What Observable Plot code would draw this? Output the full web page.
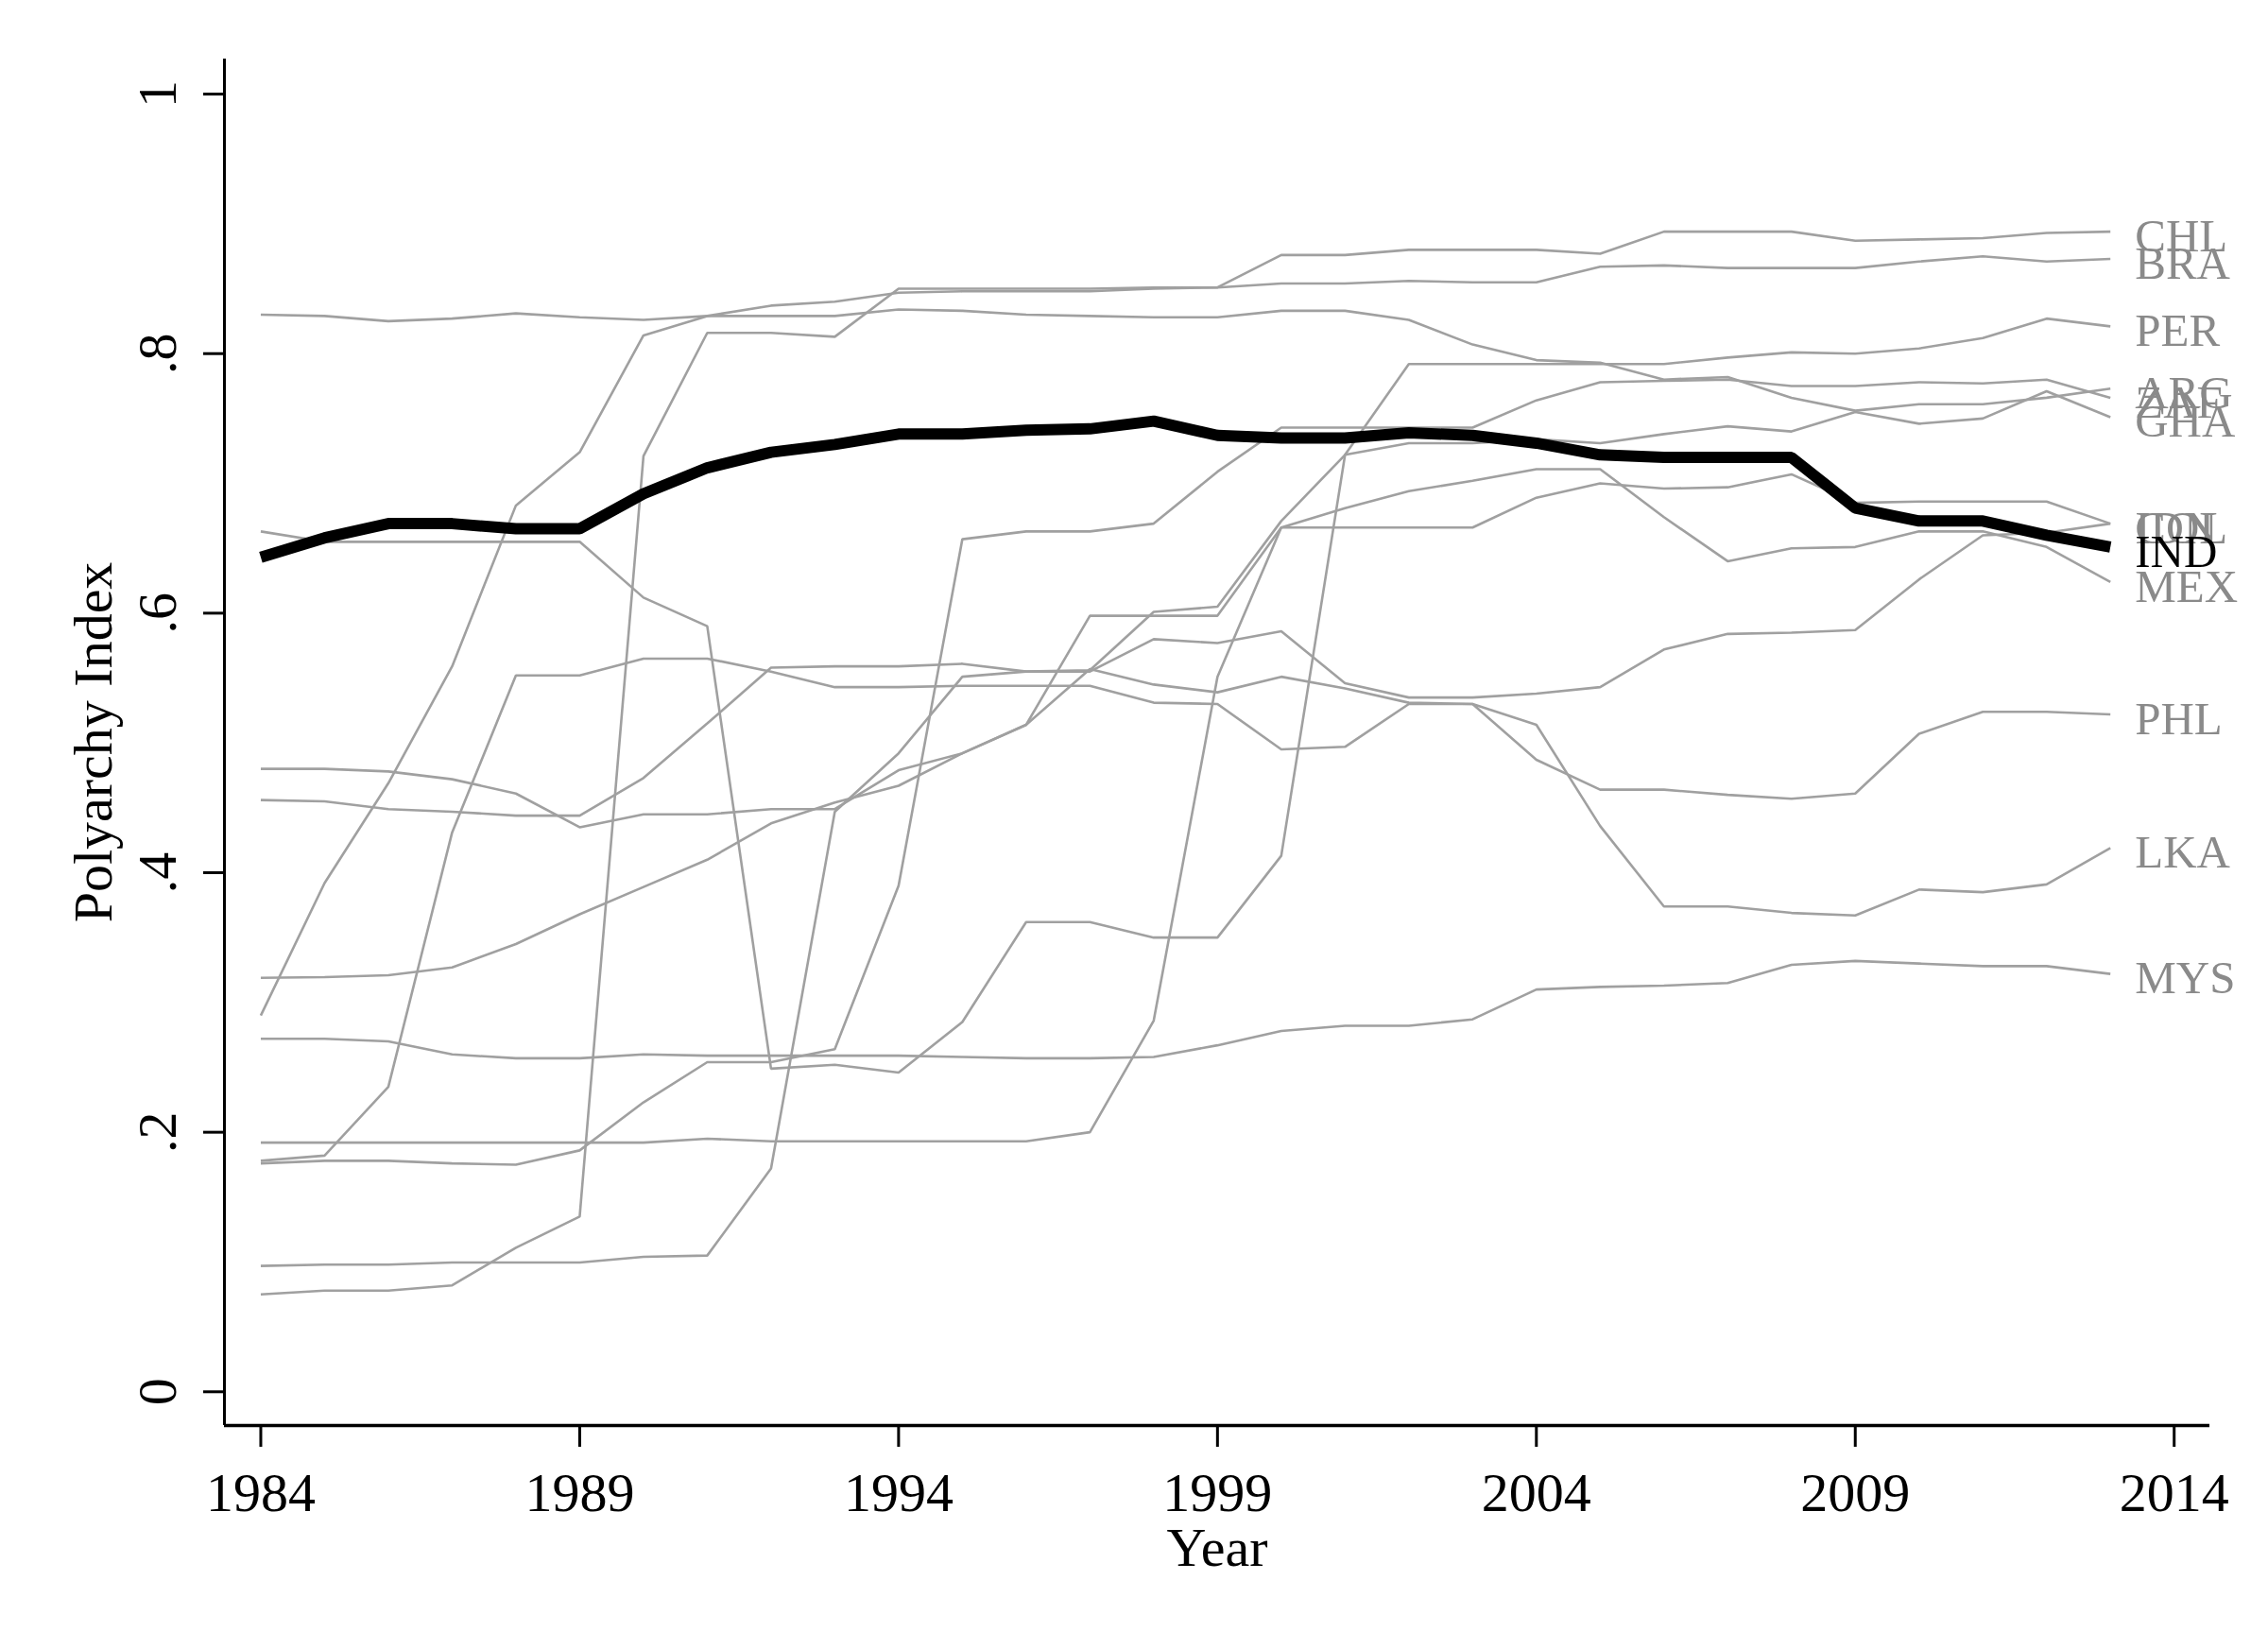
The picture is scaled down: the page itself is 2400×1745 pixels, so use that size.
<!DOCTYPE html>
<html><head><meta charset="utf-8">
<script src="https://cdn.jsdelivr.net/npm/d3@7"></script>
<script src="https://cdn.jsdelivr.net/npm/@observablehq/plot@0.6"></script>
<style>html,body{margin:0;padding:0;background:#fff}</style>
</head><body><div id="chart"></div>
<script>
const years = [1984,1985,1986,1987,1988,1989,1990,1991,1992,1993,1994,1995,1996,1997,1998,1999,2000,2001,2002,2003,2004,2005,2006,2007,2008,2009,2010,2011,2012,2013];

const CHL = [.075,.078,.078,.082,.111,.135,.721,.816,.816,.813,.850,.850,.850,.850,.851,.851,.876,.876,.880,.880,.880,.877,.894,.894,.894,.887,.888,.889,.893,.894];
const BRA = [.290,.392,.469,.559,.683,.724,.814,.829,.837,.840,.847,.848,.848,.848,.850,.851,.854,.854,.856,.855,.855,.867,.868,.866,.866,.866,.871,.875,.871,.873];
const PER = [.663,.655,.655,.655,.655,.655,.612,.590,.249,.252,.246,.285,.362,.362,.350,.350,.413,.722,.792,.792,.792,.792,.792,.797,.801,.800,.804,.812,.827,.821];
const ARG = [.830,.829,.825,.827,.831,.828,.826,.829,.829,.829,.834,.833,.830,.829,.828,.828,.833,.833,.826,.807,.795,.793,.780,.782,.766,.756,.761,.761,.766,.773];
const ZAF = [.176,.178,.178,.176,.175,.186,.223,.254,.254,.264,.390,.657,.663,.663,.669,.709,.743,.743,.743,.743,.764,.778,.779,.780,.775,.775,.778,.777,.780,.766];
const GHA = [.097,.098,.098,.0996,.0996,.0996,.104,.105,.172,.447,.492,.551,.555,.556,.601,.605,.671,.722,.731,.731,.734,.731,.738,.744,.740,.755,.746,.750,.771,.751];
const COL = [.456,.455,.449,.447,.444,.444,.473,.515,.558,.559,.559,.561,.555,.555,.580,.577,.586,.546,.535,.535,.538,.543,.572,.584,.585,.587,.626,.660,.662,.669];
const IDN = [.192,.192,.192,.192,.192,.192,.192,.195,.193,.193,.193,.193,.193,.200,.286,.551,.666,.666,.666,.666,.689,.700,.696,.697,.707,.685,.686,.686,.686,.669];
const MEX = [.319,.3195,.321,.327,.345,.368,.389,.410,.438,.454,.467,.492,.514,.598,.598,.598,.666,.681,.694,.702,.711,.711,.674,.640,.650,.651,.663,.663,.651,.624];
const PHL = [.178,.182,.235,.431,.552,.552,.565,.565,.555,.543,.543,.544,.544,.544,.531,.530,.495,.497,.530,.530,.487,.464,.464,.460,.457,.461,.507,.524,.524,.522];
const LKA = [.480,.480,.478,.472,.461,.435,.445,.445,.449,.449,.479,.492,.514,.557,.545,.539,.551,.542,.531,.530,.514,.436,.374,.374,.369,.367,.387,.385,.391,.419];
const MYS = [.272,.272,.270,.260,.257,.257,.260,.259,.259,.259,.259,.258,.257,.257,.258,.267,.278,.282,.282,.287,.310,.312,.313,.315,.329,.332,.330,.328,.328,.322];
const IND = [.643,.658,.669,.669,.665,.665,.692,.712,.724,.730,.738,.738,.741,.742,.748,.737,.735,.735,.739,.737,.731,.722,.720,.720,.720,.681,.671,.671,.660,.651];

const grayCountries = ["CHL","BRA","PER","ARG","ZAF","GHA","COL","IDN","MEX","PHL","LKA","MYS"];
const highlight = "IND";

const xTicks = [1984,1989,1994,1999,2004,2009,2014];
const yTicks = [0,0.2,0.4,0.6,0.8,1];
const yTickLabels = ["0",".2",".4",".6",".8","1"];
const xTitle = "Year";
const yTitle = "Polyarchy Index";

const seriesByName = {CHL,BRA,PER,ARG,ZAF,GHA,COL,IDN,MEX,PHL,LKA,MYS,IND};
const toRows = c => seriesByName[c].map((v,i)=>({country:c, year:years[i], value:v}));
const grayRows = grayCountries.flatMap(toRows);
const indRows = toRows(highlight);
const lastOf = c => ({country:c, year:years[years.length-1], value:seriesByName[c][seriesByName[c].length-1]});
const grayLast = grayCountries.map(lastOf);
const indLast = [lastOf(highlight)];

const xDomain = [1983.43, 2014.56];
const yDomain = [-0.026, 1.027];
const FONT = "'Liberation Serif', 'Times New Roman', serif";

const chart = Plot.plot({
  width: 2400, height: 1745,
  marginLeft: 237, marginRight: 62, marginTop: 62, marginBottom: 237,
  x: {domain: xDomain, label: null},
  y: {domain: yDomain, label: null},
  style: {fontFamily: FONT, background: "white", color: "black"},
  marks: [
    Plot.axisX({ticks: xTicks, tickSize: 23, tickPadding: 26, tickFormat: d => String(d), fontSize: 58, strokeWidth: 3, label: null}),
    Plot.axisY({ticks: yTicks, tickSize: 22, tickPadding: 30, tickRotate: -90, tickFormat: d => yTickLabels[yTicks.indexOf(d)], fontSize: 58, strokeWidth: 3, label: null}),
    Plot.ruleX([xDomain[0]], {stroke: "black", strokeWidth: 3}),
    Plot.ruleY([yDomain[0]], {stroke: "black", strokeWidth: 3.5}),
    Plot.text([yTitle], {frameAnchor: "left", dx: -120, rotate: -90, lineAnchor: "bottom", textAnchor: "middle", fontSize: 58, fill: "black"}),
    Plot.text([xTitle], {frameAnchor: "bottom", dy: 148, lineAnchor: "bottom", textAnchor: "middle", fontSize: 58, fill: "black"}),
    Plot.line(grayRows, {x: "year", y: "value", z: "country", stroke: "#a0a0a0", strokeWidth: 2.6, strokeLinejoin: "miter", strokeLinecap: "butt"}),
    Plot.line(indRows, {x: "year", y: "value", stroke: "black", strokeWidth: 12, strokeLinejoin: "miter", strokeLinecap: "butt"}),
    Plot.text(grayLast, {x: "year", y: "value", text: "country", dx: 26, dy: 5, textAnchor: "start", lineAnchor: "middle", fill: "#8a8a8a", fontSize: 49}),
    Plot.text(indLast, {x: "year", y: "value", text: "country", dx: 26, dy: 5, textAnchor: "start", lineAnchor: "middle", fill: "black", fontSize: 49})
  ]
});
document.getElementById("chart").appendChild(chart);
</script>
</body></html>
